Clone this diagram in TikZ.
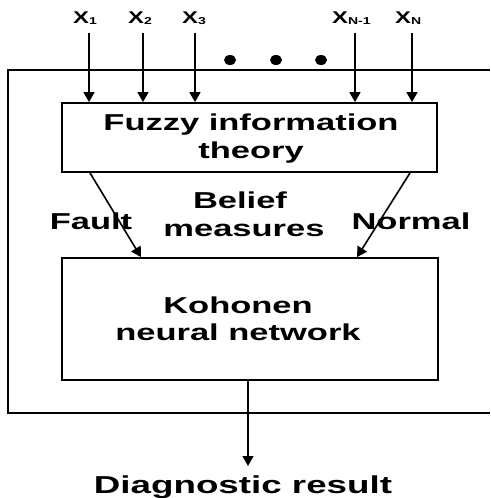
\documentclass[tikz,border=0pt]{standalone}
\usepackage{fontspec}
\setmainfont{Liberation Sans}
\newfontfamily\widesans[FakeStretch=1.5]{Liberation Sans}
\newfontfamily\inputsans[FakeStretch=1.4]{Liberation Sans}
\usetikzlibrary{arrows.meta}

\newcommand{\invar}[1]{X\raisebox{-1pt}{\fontsize{10}{10}\selectfont #1}}

\begin{document}
\begin{tikzpicture}[x=1pt,y=-1pt,
  box/.style={draw,line width=1.8pt,inner sep=0pt},
  lbl/.style={anchor=base,inner sep=0pt,font=\widesans\bfseries\fontsize{23}{28}\selectfont},
  inlbl/.style={anchor=base west,inner sep=0pt,font=\inputsans\bfseries\fontsize{17}{17}\selectfont},
  flow/.style={line width=1.6pt,-{Triangle[width=11pt,length=10pt]}},
]
\useasboundingbox (0,0) rectangle (490,498);

% outer frame, open to the right
\draw[line width=1.6pt] (490,70) -- (8,70) -- (8,413) -- (490,413);

% processing blocks
\node[box,minimum width=375pt,minimum height=69pt] (fuzzy) at (249.5,137.5) {};
\node[lbl] (fuzzyA) at (251,130) {Fuzzy information};
\node[lbl] (fuzzyB) at (251,158) {theory};

\node[box,minimum width=376pt,minimum height=122pt] (kohonen) at (250,319) {};
\node[lbl] (kohA) at (238,313) {Kohonen};
\node[lbl] (kohB) at (238,340) {neural network};

% labels between the blocks
\node[lbl] (belief) at (240,208) {Belief};
\node[lbl] (measures) at (244,236) {measures};
\node[lbl] (fault) at (91,229) {Fault};
\node[lbl] (normal) at (411,229) {Normal};

% input variables
\node[inlbl] (x1) at (73,23) {\invar{1}};
\node[inlbl] (x2) at (128,23) {\invar{2}};
\node[inlbl] (x3) at (182,23) {\invar{3}};
\node[inlbl] (xn1) at (332,23) {\invar{N-1}};
\node[inlbl] (xn) at (395,23) {\invar{N}};

\coordinate (a1) at (89,33);
\coordinate (a2) at (143,33);
\coordinate (a3) at (195,33);
\coordinate (an1) at (355,33);
\coordinate (an) at (412,33);
\foreach \c in {a1,a2,a3,an1,an}
  \draw[flow] (\c) -- (\c |- fuzzy.north);

% ellipsis between the inputs
\foreach \dx in {230,276,321}
  \fill (\dx,60) circle[x radius=6pt,y radius=5pt];

% belief measures into the network
\coordinate (fs) at (90,0);
\coordinate (fe) at (141,0);
\coordinate (ns) at (410,0);
\coordinate (ne) at (357,0);
\draw[flow] (fuzzy.south -| fs) -- (kohonen.north -| fe);
\draw[flow] (fuzzy.south -| ns) -- (kohonen.north -| ne);

% output
\coordinate (out) at (248,466);
\draw[flow] (kohonen.south -| out) -- (out);
\node[lbl,font=\widesans\bfseries\fontsize{24.5}{28}\selectfont] (diag) at (243,493) {Diagnostic result};
\end{tikzpicture}
\end{document}
